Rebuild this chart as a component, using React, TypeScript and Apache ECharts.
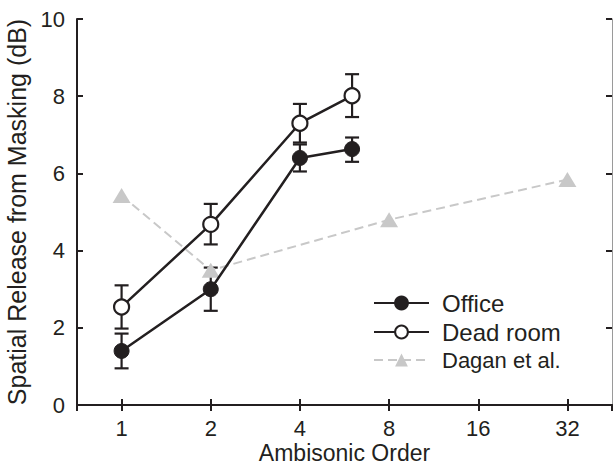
import React, { useEffect, useRef } from "react";
import * as echarts from "echarts";

const orders = [1, 2, 4, 6];
const officeMean = [1.4, 3.0, 6.4, 6.63];
const officeLow = [0.95, 2.44, 6.05, 6.3];
const officeHigh = [1.85, 3.56, 6.75, 6.93];
const deadMean = [2.54, 4.68, 7.3, 8.01];
const deadLow = [1.98, 4.16, 6.8, 7.46];
const deadHigh = [3.1, 5.21, 7.8, 8.57];
const daganOrders = [1, 2, 8, 32];
const daganMean = [5.43, 3.49, 4.8, 5.84];
const xTickLabels = [1, 2, 4, 8, 16, 32];
const seriesNames = ["Office", "Dead room", "Dagan et al."];

const BLACK = "#231f20";
const GRAY = "#c8c8c8";
const FONT = "Liberation Sans";

export default function App() {
  const ref = useRef<HTMLDivElement>(null);
  useEffect(() => {
    if (!ref.current) return;
    const chart = echarts.init(ref.current, null, { renderer: "svg" });
    const xMin = Math.pow(2, -0.5);
    const xMax = Math.pow(2, 5.5);
    const fmtX = (v: number) => {
      const r = Math.round(v);
      return xTickLabels.includes(r) && Math.abs(v - r) < 1e-6 ? String(r) : "";
    };
    const errRender = (params: any, api: any) => {
      const x = api.value(0);
      const lo = api.coord([x, api.value(1)]);
      const hi = api.coord([x, api.value(2)]);
      const h = 7;
      const style = { stroke: BLACK, lineWidth: 2.2 };
      return {
        type: "group",
        children: [
          { type: "line", shape: { x1: lo[0], y1: lo[1], x2: hi[0], y2: hi[1] }, style },
          { type: "line", shape: { x1: hi[0] - h, y1: hi[1], x2: hi[0] + h, y2: hi[1] }, style },
          { type: "line", shape: { x1: lo[0] - h, y1: lo[1], x2: lo[0] + h, y2: lo[1] }, style },
        ],
      };
    };
    const option: any = {
      animation: false,
      textStyle: { fontFamily: FONT },
      grid: { left: 77, right: 1, top: 19, bottom: 61, containLabel: false, outerBoundsMode: "none" },
      legend: {
        orient: "vertical",
        left: 373,
        top: 291,
        padding: 0,
        itemWidth: 55,
        itemHeight: 16,
        itemGap: 5,
        data: seriesNames,
        formatter: (n: string) => (n === "Dagan et al." ? "{s|" + n + "}" : "{b|" + n + "}"),
        textStyle: {
          fontFamily: FONT,
          color: BLACK,
          rich: {
            b: { fontSize: 24, fontFamily: FONT, color: BLACK, padding: [0, 0, 0, 8], lineHeight: 24 },
            s: { fontSize: 22, fontFamily: FONT, color: BLACK, padding: [0, 0, 0, 8], lineHeight: 24 },
          },
        },
      },
      xAxis: [
        {
          type: "log",
          logBase: 2,
          min: xMin,
          max: xMax,
          name: "Ambisonic Order",
          nameLocation: "middle",
          nameGap: 36,
          nameMoveOverlap: false,
          nameTextStyle: { fontSize: 23, color: BLACK, fontFamily: FONT, lineHeight: 23 },
          axisLine: { lineStyle: { color: BLACK, width: 2 } },
          axisTick: { inside: true, length: 6, lineStyle: { color: BLACK, width: 2 } },
          axisLabel: { formatter: fmtX, fontSize: 22, color: BLACK, margin: 12, showMinLabel: false, showMaxLabel: false },
          splitLine: { show: false },
        },
        {
          type: "log",
          logBase: 2,
          min: xMin,
          max: xMax,
          position: "top",
          axisLine: { lineStyle: { color: BLACK, width: 2 } },
          axisTick: { inside: true, length: 6, lineStyle: { color: BLACK, width: 2 } },
          axisLabel: { show: false },
          splitLine: { show: false },
        },
      ],
      yAxis: [
        {
          type: "value",
          min: 0,
          max: 10,
          interval: 2,
          name: "Spatial Release from Masking (dB)",
          nameLocation: "middle",
          nameGap: 48,
          nameMoveOverlap: false,
          nameTextStyle: { fontSize: 25, color: BLACK, fontFamily: FONT },
          axisLine: { show: true, lineStyle: { color: BLACK, width: 2 } },
          axisTick: { show: true, inside: true, length: 6, lineStyle: { color: BLACK, width: 2 } },
          axisLabel: { fontSize: 22, color: BLACK, margin: 12 },
          splitLine: { show: false },
        },
        {
          type: "value",
          min: 0,
          max: 10,
          interval: 2,
          position: "right",
          axisLine: { show: true, lineStyle: { color: "#9a9a9a", width: 1 } },
          axisTick: { show: true, inside: true, length: 6, lineStyle: { color: BLACK, width: 2 } },
          axisLabel: { show: false },
          splitLine: { show: false },
        },
      ],
      series: [
        {
          type: "custom",
          name: "officeErr",
          renderItem: errRender,
          data: orders.map((o, i) => [o, officeLow[i], officeHigh[i]]),
          encode: { x: 0, y: [1, 2] },
          z: 1,
          silent: true,
        },
        {
          type: "custom",
          name: "deadErr",
          renderItem: errRender,
          data: orders.map((o, i) => [o, deadLow[i], deadHigh[i]]),
          encode: { x: 0, y: [1, 2] },
          z: 1,
          silent: true,
        },
        {
          type: "line",
          name: "Dagan et al.",
          data: daganOrders.map((o, i) => [o, daganMean[i]]),
          symbol: "triangle",
          symbolSize: [18, 15],
          lineStyle: { color: GRAY, width: 2, type: [9, 5] },
          itemStyle: { color: GRAY },
          z: 2,
        },
        {
          type: "line",
          name: "Office",
          data: orders.map((o, i) => [o, officeMean[i]]),
          symbol: "circle",
          symbolSize: 15,
          lineStyle: { color: BLACK, width: 2.5 },
          itemStyle: { color: BLACK, borderColor: BLACK, borderWidth: 1 },
          z: 3,
        },
        {
          type: "line",
          name: "Dead room",
          data: orders.map((o, i) => [o, deadMean[i]]),
          symbol: "circle",
          symbolSize: 15,
          lineStyle: { color: BLACK, width: 2.5 },
          itemStyle: { color: "#ffffff", borderColor: BLACK, borderWidth: 2.2 },
          z: 3,
        },
      ],
    };
    chart.setOption(option);
    return () => chart.dispose();
  }, []);
  return (
    <div
      ref={ref}
      style={{ position: "fixed", left: 0, top: 0, width: 613, height: 466, background: "#ffffff" }}
    />
  );
}
